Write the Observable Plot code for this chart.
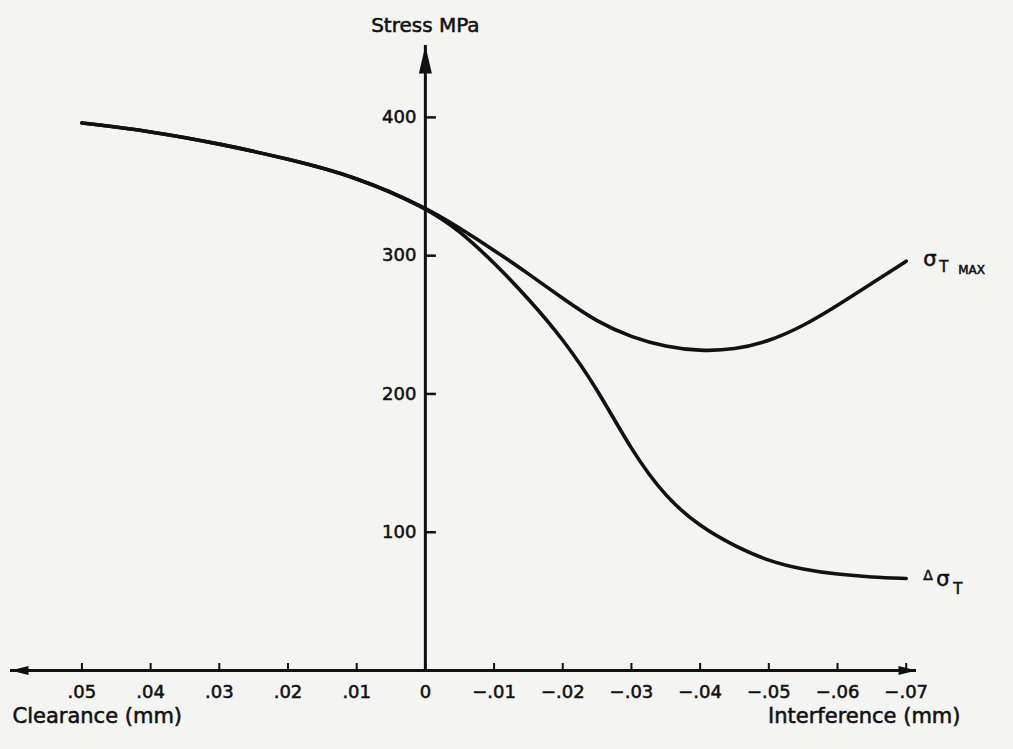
<!DOCTYPE html>
<html>
<head>
<meta charset="utf-8">
<script src="https://cdn.jsdelivr.net/npm/d3@7"></script>
<script src="https://cdn.jsdelivr.net/npm/@observablehq/plot@0.6"></script>
<style>
  html, body { margin: 0; padding: 0; background: #f4f4f2; }
  #chart svg { display: block; }
  #chart svg text { stroke: #111; stroke-width: 0.55px; paint-order: stroke; }
</style>
</head>
<body>
<div id="chart"></div>
<script>
// Horizontal axis: positive = clearance (mm), negative = interference (mm)
const xValues = [0.05, 0.04, 0.03, 0.02, 0.01, 0, -0.005, -0.01, -0.015, -0.02, -0.025, -0.03, -0.035, -0.04, -0.045, -0.05, -0.055, -0.06, -0.065, -0.07];
// Stress (MPa)
const sigmaTMax   = [396, 390, 381, 370, 357, 335, 320, 304, 287, 269, 252, 241, 234, 231, 232, 238, 249, 264, 280, 296];
const deltaSigmaT = [396, 390, 381, 370, 357, 335, 318, 295, 269, 240, 204, 159, 125, 104, 90, 79, 73, 69.5, 67.5, 66.5];

const xTickValues = [0.05, 0.04, 0.03, 0.02, 0.01, 0, -0.01, -0.02, -0.03, -0.04, -0.05, -0.06, -0.07];
const xTickLabels = [".05", ".04", ".03", ".02", ".01", "0", "−.01", "−.02", "−.03", "−.04", "−.05", "−.06", "−.07"];
const yTickValues = [100, 200, 300, 400];
const yTickLabels = ["100", "200", "300", "400"];

const xDomain = [0.0604, -0.0715];
const yDomain = [0, 452];

const ink = "#111";

const series = [
  ...xValues.map((x, i) => ({x, y: sigmaTMax[i], s: "sigmaTMax"})),
  ...xValues.map((x, i) => ({x, y: deltaSigmaT[i], s: "deltaSigmaT"}))
];
const endMax = {x: xValues[xValues.length - 1], y: sigmaTMax[sigmaTMax.length - 1]};
const endDelta = {x: xValues[xValues.length - 1], y: deltaSigmaT[deltaSigmaT.length - 1]};

const xTicks = xTickValues.map((v, i) => ({v, label: xTickLabels[i]}));
const yTicks = yTickValues.map((v, i) => ({v, label: yTickLabels[i]}));

const arrowUp = {draw(c) { c.moveTo(0, 0); c.lineTo(-6.5, 28); c.lineTo(6.5, 28); c.closePath(); }};
const arrowLeft = {draw(c) { c.moveTo(0, 0); c.lineTo(18, -4.5); c.lineTo(18, 4.5); c.closePath(); }};
const arrowRight = {draw(c) { c.moveTo(0, 0); c.lineTo(-18, -4.5); c.lineTo(-18, 4.5); c.closePath(); }};

const chart = Plot.plot({
  width: 1013,
  height: 749,
  marginLeft: 10,
  marginRight: 97,
  marginTop: 45,
  marginBottom: 79,
  style: {fontFamily: "DejaVu Sans", fontSize: "18px", background: "#f4f4f2", color: ink},
  x: {domain: xDomain, axis: null},
  y: {domain: yDomain, axis: null},
  marks: [
    // axes lines
    Plot.ruleY([0], {stroke: ink, strokeWidth: 3}),
    Plot.ruleX([0], {stroke: ink, strokeWidth: 3}),
    // arrowheads
    Plot.dot([{x: xDomain[0], y: 0}], {x: "x", y: "y", symbol: arrowLeft, fill: ink, stroke: "none"}),
    Plot.dot([{x: xDomain[1], y: 0}], {x: "x", y: "y", symbol: arrowRight, fill: ink, stroke: "none"}),
    Plot.dot([{x: 0, y: yDomain[1]}], {x: "x", y: "y", symbol: arrowUp, fill: ink, stroke: "none"}),
    // x ticks (pointing up)
    Plot.ruleX(xTicks, {x: "v", y1: 0, y2: 0, insetTop: -7, stroke: ink, strokeWidth: 2}),
    Plot.text(xTicks, {x: "v", y: 0, text: "label", dy: 22, fill: ink}),
    // y ticks (pointing right)
    Plot.ruleY(yTicks, {y: "v", x1: 0, x2: 0, insetRight: -11, stroke: ink, strokeWidth: 2.5}),
    Plot.text(yTicks, {x: 0, y: "v", text: "label", dx: -9, textAnchor: "end", fill: ink}),
    // axis titles
    Plot.text(["Stress MPa"], {x: 0, y: yDomain[1], dy: -20, fontSize: 20, fill: ink}),
    Plot.text(["Clearance (mm)"], {frameAnchor: "bottom-left", dx: 2, dy: 52, textAnchor: "start", fontSize: 21, fill: ink}),
    Plot.text(["Interference (mm)"], {frameAnchor: "bottom-right", dx: 44, dy: 52, textAnchor: "end", fontSize: 21, fill: ink}),
    // curves
    Plot.line(series, {x: "x", y: "y", z: "s", curve: "basis", stroke: ink, strokeWidth: 3.6}),
    // curve labels
    Plot.text([endMax], {x: "x", y: "y", text: () => "σ", dx: 17, dy: -2, textAnchor: "start", fontSize: 21, fill: ink}),
    Plot.text([endMax], {x: "x", y: "y", text: () => "T", dx: 33, dy: 6, textAnchor: "start", fontSize: 15, fill: ink}),
    Plot.text([endMax], {x: "x", y: "y", text: () => "MAX", dx: 52, dy: 9, textAnchor: "start", fontSize: 12, fill: ink}),
    Plot.text([endDelta], {x: "x", y: "y", text: () => "Δ", dx: 17, dy: -3, textAnchor: "start", fontSize: 14, fill: ink}),
    Plot.text([endDelta], {x: "x", y: "y", text: () => "σ", dx: 30, dy: 1, textAnchor: "start", fontSize: 21, fill: ink}),
    Plot.text([endDelta], {x: "x", y: "y", text: () => "T", dx: 47, dy: 11, textAnchor: "start", fontSize: 15, fill: ink})
  ]
});
document.getElementById("chart").appendChild(chart);
</script>
</body>
</html>
